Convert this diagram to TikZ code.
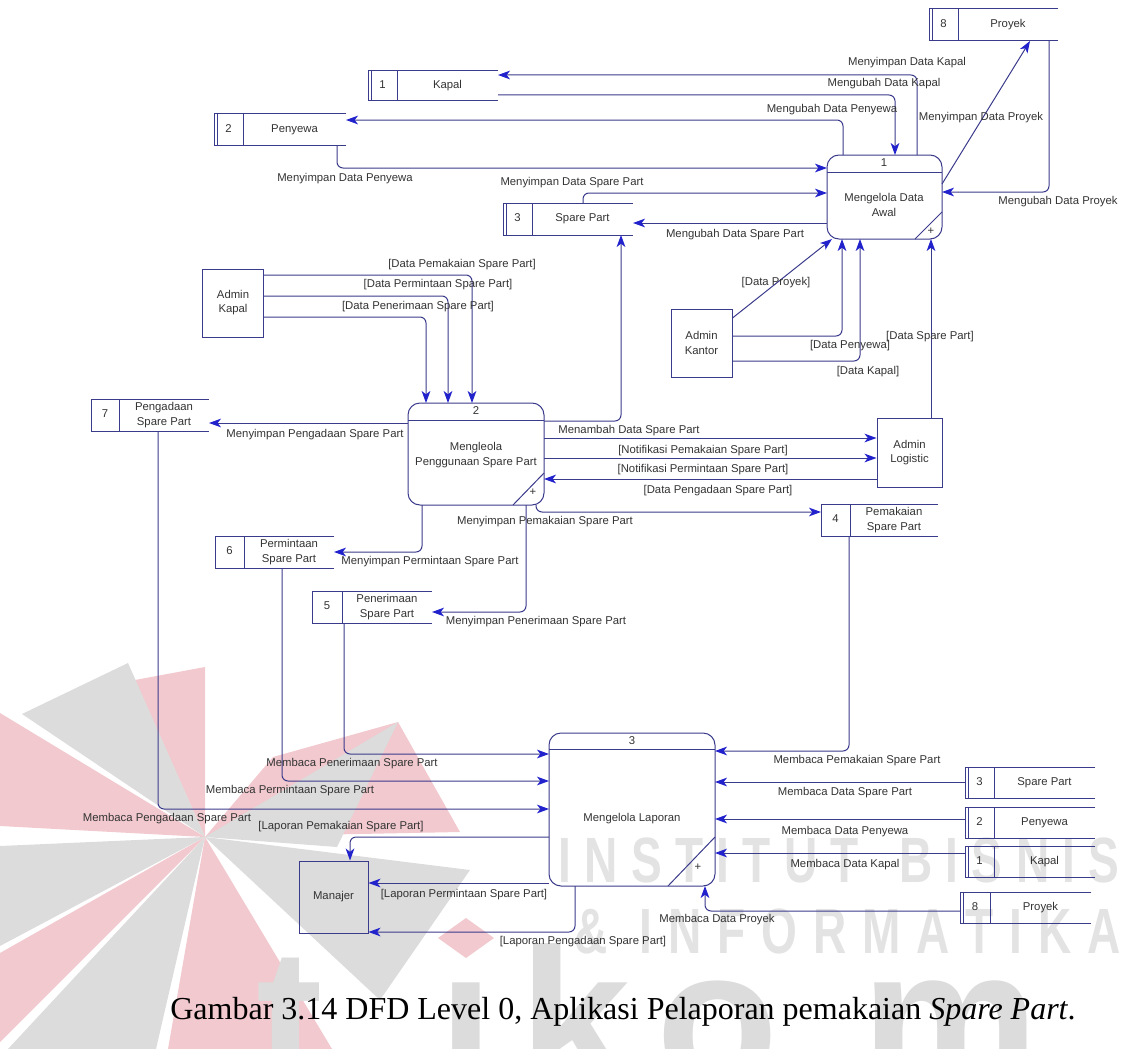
\documentclass[tikz,border=0pt]{standalone}
\usepackage{fontspec}
\setmainfont{Liberation Sans}
\newfontfamily\capfont{Liberation Serif}
\newfontfamily\markfont[FakeStretch=0.72]{Liberation Sans}
\newfontfamily\wordfont{Liberation Sans}
\usetikzlibrary{arrows.meta,fit}
\definecolor{linec}{HTML}{3B3B8C}
\definecolor{tipc}{HTML}{2222CC}
\definecolor{txtc}{HTML}{333333}
\definecolor{markgray}{HTML}{E3E3E3}
\definecolor{logogray}{HTML}{DCDCDC}
\definecolor{logopink}{HTML}{F1C9CE}

% data store: name, left, top, right, bottom, divider x, number, text, double edge (1/0)
\newcommand\dstore[9]{%
  \node[frame, fit={(#2,#3) (#4,#5)}] (#1) {};
  \draw[outline] (#1.north east) -- (#1.north west) -- (#1.south west) -- (#1.south east);
  \draw[outline] (#1.north -| #6,0) -- (#1.south -| #6,0);
  \ifnum#9=1 \draw[outline] ([xshift=2.4pt]#1.north west) -- ([xshift=2.4pt]#1.south west);\fi
  \node (#1-no) at ({(#2+#6)/2},{(#3+#5)/2-1}) {#7};
  \node[align=center] (#1-txt) at ({(#6+#4)/2},{(#3+#5)/2}) {#8};
}

\begin{document}
\begin{tikzpicture}[x=0.75pt,y=-0.75pt,
  every node/.style={font=\fontsize{8.5}{10.6}\selectfont, text=txtc},
  outline/.style={draw=linec, line width=0.75pt},
  frame/.style={inner sep=0pt, outer sep=0pt},
  proc/.style={frame, outline, rounded corners=9pt},
  ent/.style={outline, inner sep=0pt, align=center},
  flow/.style={draw=linec, line width=0.75pt, rounded corners=4.5pt,
    -{Stealth[length=9pt,width=6.5pt,inset=2.5pt,color=tipc]}},
  lbl/.style={inner sep=0pt},
  wmark/.style={inner sep=0pt, anchor=west, text=markgray,
    font=\markfont\bfseries\fontsize{48}{48}\selectfont},
  wletter/.style={inner sep=0pt, anchor=base, text=logogray,
    font=\wordfont\bfseries\fontsize{150}{150}\selectfont},
]
\useasboundingbox (0,0) rectangle (1121,1049);

% ---------- background emblem and lettering ----------
\begin{scope}
\clip (0,0) rectangle (1121,1049);
% star blades round the centre (205,837)
\fill[logopink] (205,837) -- (205,667) -- (135,680) -- cycle;
\fill[logogray] (205,837) -- (128,663) -- (22,714) -- cycle;
\fill[logopink] (205,837) -- (0,713) -- (0,826) -- cycle;
\fill[logogray] (205,837) -- (0,846) -- (0,946) -- cycle;
\fill[logopink] (205,837) -- (0,953) -- (0,1042) -- cycle;
\fill[logogray] (205,837) -- (8,1049) -- (156,1049) -- cycle;
\fill[logopink] (205,837) -- (168,1049) -- (332,1049) -- cycle;
\fill[logogray] (205,837) -- (470,870) -- (380,1000) -- cycle;
\fill[logopink] (205,837) -- (273,757) -- (398,722) -- (460,832) -- cycle;
\fill[logogray] (398,722) -- (337,847) -- (205,837) -- cycle;
\fill[logopink] (466,918) -- (494,938) -- (466,958) -- (438,938) -- cycle;
\node[wletter] (ws) at (110,1088) {s};
\node[wletter] (wt) at (290,1088) {t};
\node[wletter] (wi) at (466,1088) {ı};
\node[wletter] (wk) at (575,1088) {k};
\node[wletter] (wo) at (718,1088) {o};
\node[wletter] (wm) at (950,1088) {m};
\end{scope}
\node[wmark] (wm1) at (558,860) {\makebox[421pt][s]{I\hfill N\hfill S\hfill T\hfill I\hfill T\hfill U\hfill T\hfill\hfill\hfill B\hfill I\hfill S\hfill N\hfill I\hfill S}};
\node[wmark] (wm2) at (574,931) {\makebox[410pt][s]{\&\hfill\hfill I\hfill N\hfill F\hfill O\hfill R\hfill M\hfill A\hfill T\hfill I\hfill K\hfill A}};

% ---------- processes ----------
\node[proc, fit={(827,155) (942,239)}] (p1) {};
\draw[outline] (p1.west |- 0,172) -- (p1.east |- 0,172);
\node (p1-no) at (884,163) {1};
\node[align=center] (p1-txt) at (884,205) {Mengelola Data\\Awal};
\draw[outline] (p1.south -| 915,0) -- (p1.east |- 0,212);
\node (p1-plus) at (931,231) {+};

\node[proc, fit={(408,403) (544,505)}] (p2) {};
\draw[outline] (p2.west |- 0,420) -- (p2.east |- 0,420);
\node (p2-no) at (476,411) {2};
\node[align=center] (p2-txt) at (476,455) {Mengleola\\Penggunaan Spare Part};
\draw[outline] (p2.south -| 513,0) -- (p2.east |- 0,473);
\node (p2-plus) at (533,492) {+};

\node[proc, fit={(549,733) (715,886)}] (p3) {};
\draw[outline] (p3.west |- 0,749) -- (p3.east |- 0,749);
\node (p3-no) at (632,741) {3};
\node (p3-txt) at (632,819) {Mengelola Laporan};
\draw[outline] (p3.south -| 668,0) -- (p3.east |- 0,837);
\node (p3-plus) at (698,867) {+};

% ---------- external entities ----------
\node[ent, minimum width=61*0.75pt, minimum height=68*0.75pt] (akapal) at (233,303) {Admin\\Kapal};
\node[ent, minimum width=61*0.75pt, minimum height=68*0.75pt] (akantor) at (701.5,343) {Admin\\Kantor};
\node[ent, minimum width=65*0.75pt, minimum height=69*0.75pt] (alog) at (909.5,452.5) {Admin\\Logistic};
\node[ent, minimum width=69*0.75pt, minimum height=72*0.75pt] (manajer) at (333.5,897) {Manajer};

% ---------- data stores ----------
\dstore{s8a}{929}{9}{1058}{41}{958}{8}{Proyek}{1}
\dstore{s1a}{368}{71}{498}{101}{397}{1}{Kapal}{1}
\dstore{s2a}{214}{114}{346}{145}{243}{2}{Penyewa}{1}
\dstore{s3a}{503}{203}{633}{235}{532}{3}{Spare Part}{1}
\dstore{s7}{91}{399}{209}{431}{119}{7}{Pengadaan\\Spare Part}{0}
\dstore{s4}{821}{504}{938}{536}{850}{4}{Pemakaian\\Spare Part}{0}
\dstore{s6}{215}{536}{334}{568}{244}{6}{Permintaan\\Spare Part}{0}
\dstore{s5}{312}{591}{432}{623}{342}{5}{Penerimaan\\Spare Part}{0}
\dstore{s3b}{965}{767}{1095}{798}{994}{3}{Spare Part}{1}
\dstore{s2b}{965}{807}{1095}{838}{994}{2}{Penyewa}{1}
\dstore{s1b}{965}{846}{1095}{877}{994}{1}{Kapal}{1}
\dstore{s8b}{960}{892}{1091}{923}{990}{8}{Proyek}{1}

% ---------- flows of process 1 ----------
\draw[flow] (p1.north -| 917,0) |- (s1a.east |- 0,75);
\draw[flow] (s1a.east |- 0,95) -| (p1.north -| 895,0);
\draw[flow] (p1.north -| 843,0) |- (s2a.east |- 0,120);
\draw[flow] (s2a.south -| 337,0) |- (p1.west |- 0,168);
\draw[flow] (s3a.north -| 583,0) |- (p1.west |- 0,193);
\draw[flow] (p1.west |- 0,223) -- (s3a.east |- 0,223);
\draw[flow] (p1.east |- 0,184) -- (s8a.south -| 1030,0);
\draw[flow] (s8a.south -| 1049,0) |- (p1.east |- 0,192);
\draw[flow] (akantor.east |- 0,318) -- (p1.south -| 832,0);
\draw[flow] (akantor.east |- 0,336) -| (p1.south -| 842,0);
\draw[flow] (akantor.east |- 0,361) -| (p1.south -| 860,0);
\draw[flow] (alog.north -| 931,0) -- (p1.south -| 931,0);

% ---------- flows of process 2 ----------
\draw[flow] (akapal.east |- 0,275) -| (p2.north -| 472,0);
\draw[flow] (akapal.east |- 0,296) -| (p2.north -| 448,0);
\draw[flow] (akapal.east |- 0,317) -| (p2.north -| 426,0);
\draw[flow] (p2.west |- 0,423) -- (s7.east |- 0,423);
\draw[flow] (p2.east |- 0,421) -| (s3a.south -| 621,0);
\draw[flow] (p2.east |- 0,438) -- (alog.west |- 0,438);
\draw[flow] (p2.east |- 0,458) -- (alog.west |- 0,458);
\draw[flow] (alog.west |- 0,479) -- (p2.east |- 0,479);
\draw[flow] (p2.south -| 536,0) |- (s4.west |- 0,512);
\draw[flow] (p2.south -| 422,0) |- (s6.east |- 0,552);
\draw[flow] (p2.south -| 526,0) |- (s5.east |- 0,612);

% ---------- flows of process 3 ----------
\draw[flow] (s4.south -| 849,0) |- (p3.east |- 0,751);
\draw[flow] (s3b.west |- 0,782) -- (p3.east |- 0,782);
\draw[flow] (s2b.west |- 0,819) -- (p3.east |- 0,819);
\draw[flow] (s1b.west |- 0,853) -- (p3.east |- 0,853);
\draw[flow] (s8b.west |- 0,911) -| (p3.south -| 705,0);
\draw[flow] (s5.south -| 344,0) |- (p3.west |- 0,754);
\draw[flow] (s6.south -| 282,0) |- (p3.west |- 0,781);
\draw[flow] (s7.south -| 158,0) |- (p3.west |- 0,809);
\draw[flow] (p3.west |- 0,837) -| (manajer.north -| 350,0);
\draw[flow] (p3.west |- 0,883) -- (manajer.east |- 0,883);
\draw[flow] (p3.south -| 575,0) |- (manajer.east |- 0,932);

% ---------- flow labels ----------
\node[lbl] (l01) at (907,63) {Menyimpan Data Kapal};
\node[lbl] (l02) at (884,84) {Mengubah Data Kapal};
\node[lbl] (l03) at (832,110) {Mengubah Data Penyewa};
\node[lbl] (l04) at (981,118) {Menyimpan Data Proyek};
\node[lbl] (l05) at (1058,202) {Mengubah Data Proyek};
\node[lbl] (l06) at (345,179) {Menyimpan Data Penyewa};
\node[lbl] (l07) at (572,183) {Menyimpan Data Spare Part};
\node[lbl] (l08) at (735,235) {Mengubah Data Spare Part};
\node[lbl] (l09) at (776,283) {[Data Proyek]};
\node[lbl] (l10) at (850,346) {[Data Penyewa]};
\node[lbl] (l11) at (868,372) {[Data Kapal]};
\node[lbl] (l12) at (930,337) {[Data Spare Part]};
\node[lbl] (l13) at (462,265) {[Data Pemakaian Spare Part]};
\node[lbl] (l14) at (438,285) {[Data Permintaan Spare Part]};
\node[lbl] (l15) at (418,307) {[Data Penerimaan Spare Part]};
\node[lbl] (l16) at (315,435) {Menyimpan Pengadaan Spare Part};
\node[lbl] (l17) at (629,431) {Menambah Data Spare Part};
\node[lbl] (l18) at (703,451) {[Notifikasi Pemakaian Spare Part]};
\node[lbl] (l19) at (703,470) {[Notifikasi Permintaan Spare Part]};
\node[lbl] (l20) at (718,491) {[Data Pengadaan Spare Part]};
\node[lbl] (l21) at (545,522) {Menyimpan Pemakaian Spare Part};
\node[lbl] (l22) at (430,562) {Menyimpan Permintaan Spare Part};
\node[lbl] (l23) at (536,622) {Menyimpan Penerimaan Spare Part};
\node[lbl] (l24) at (352,764) {Membaca Penerimaan Spare Part};
\node[lbl] (l25) at (290,791) {Membaca Permintaan Spare Part};
\node[lbl] (l26) at (167,819) {Membaca Pengadaan Spare Part};
\node[lbl] (l27) at (341,827) {[Laporan Pemakaian Spare Part]};
\node[lbl] (l28) at (464,895) {[Laporan Permintaan Spare Part]};
\node[lbl] (l29) at (583,942) {[Laporan Pengadaan Spare Part]};
\node[lbl] (l30) at (857,761) {Membaca Pemakaian Spare Part};
\node[lbl] (l31) at (845,793) {Membaca Data Spare Part};
\node[lbl] (l32) at (845,832) {Membaca Data Penyewa};
\node[lbl] (l33) at (845,865) {Membaca Data Kapal};
\node[lbl] (l34) at (717,920) {Membaca Data Proyek};

% ---------- caption ----------
\node[font=\capfont\fontsize{24}{28}\selectfont, text=black] (caption) at (623,1012)
  {Gambar 3.14 DFD Level 0, Aplikasi Pelaporan pemakaian \textit{Spare Part}.};
\end{tikzpicture}
\end{document}
